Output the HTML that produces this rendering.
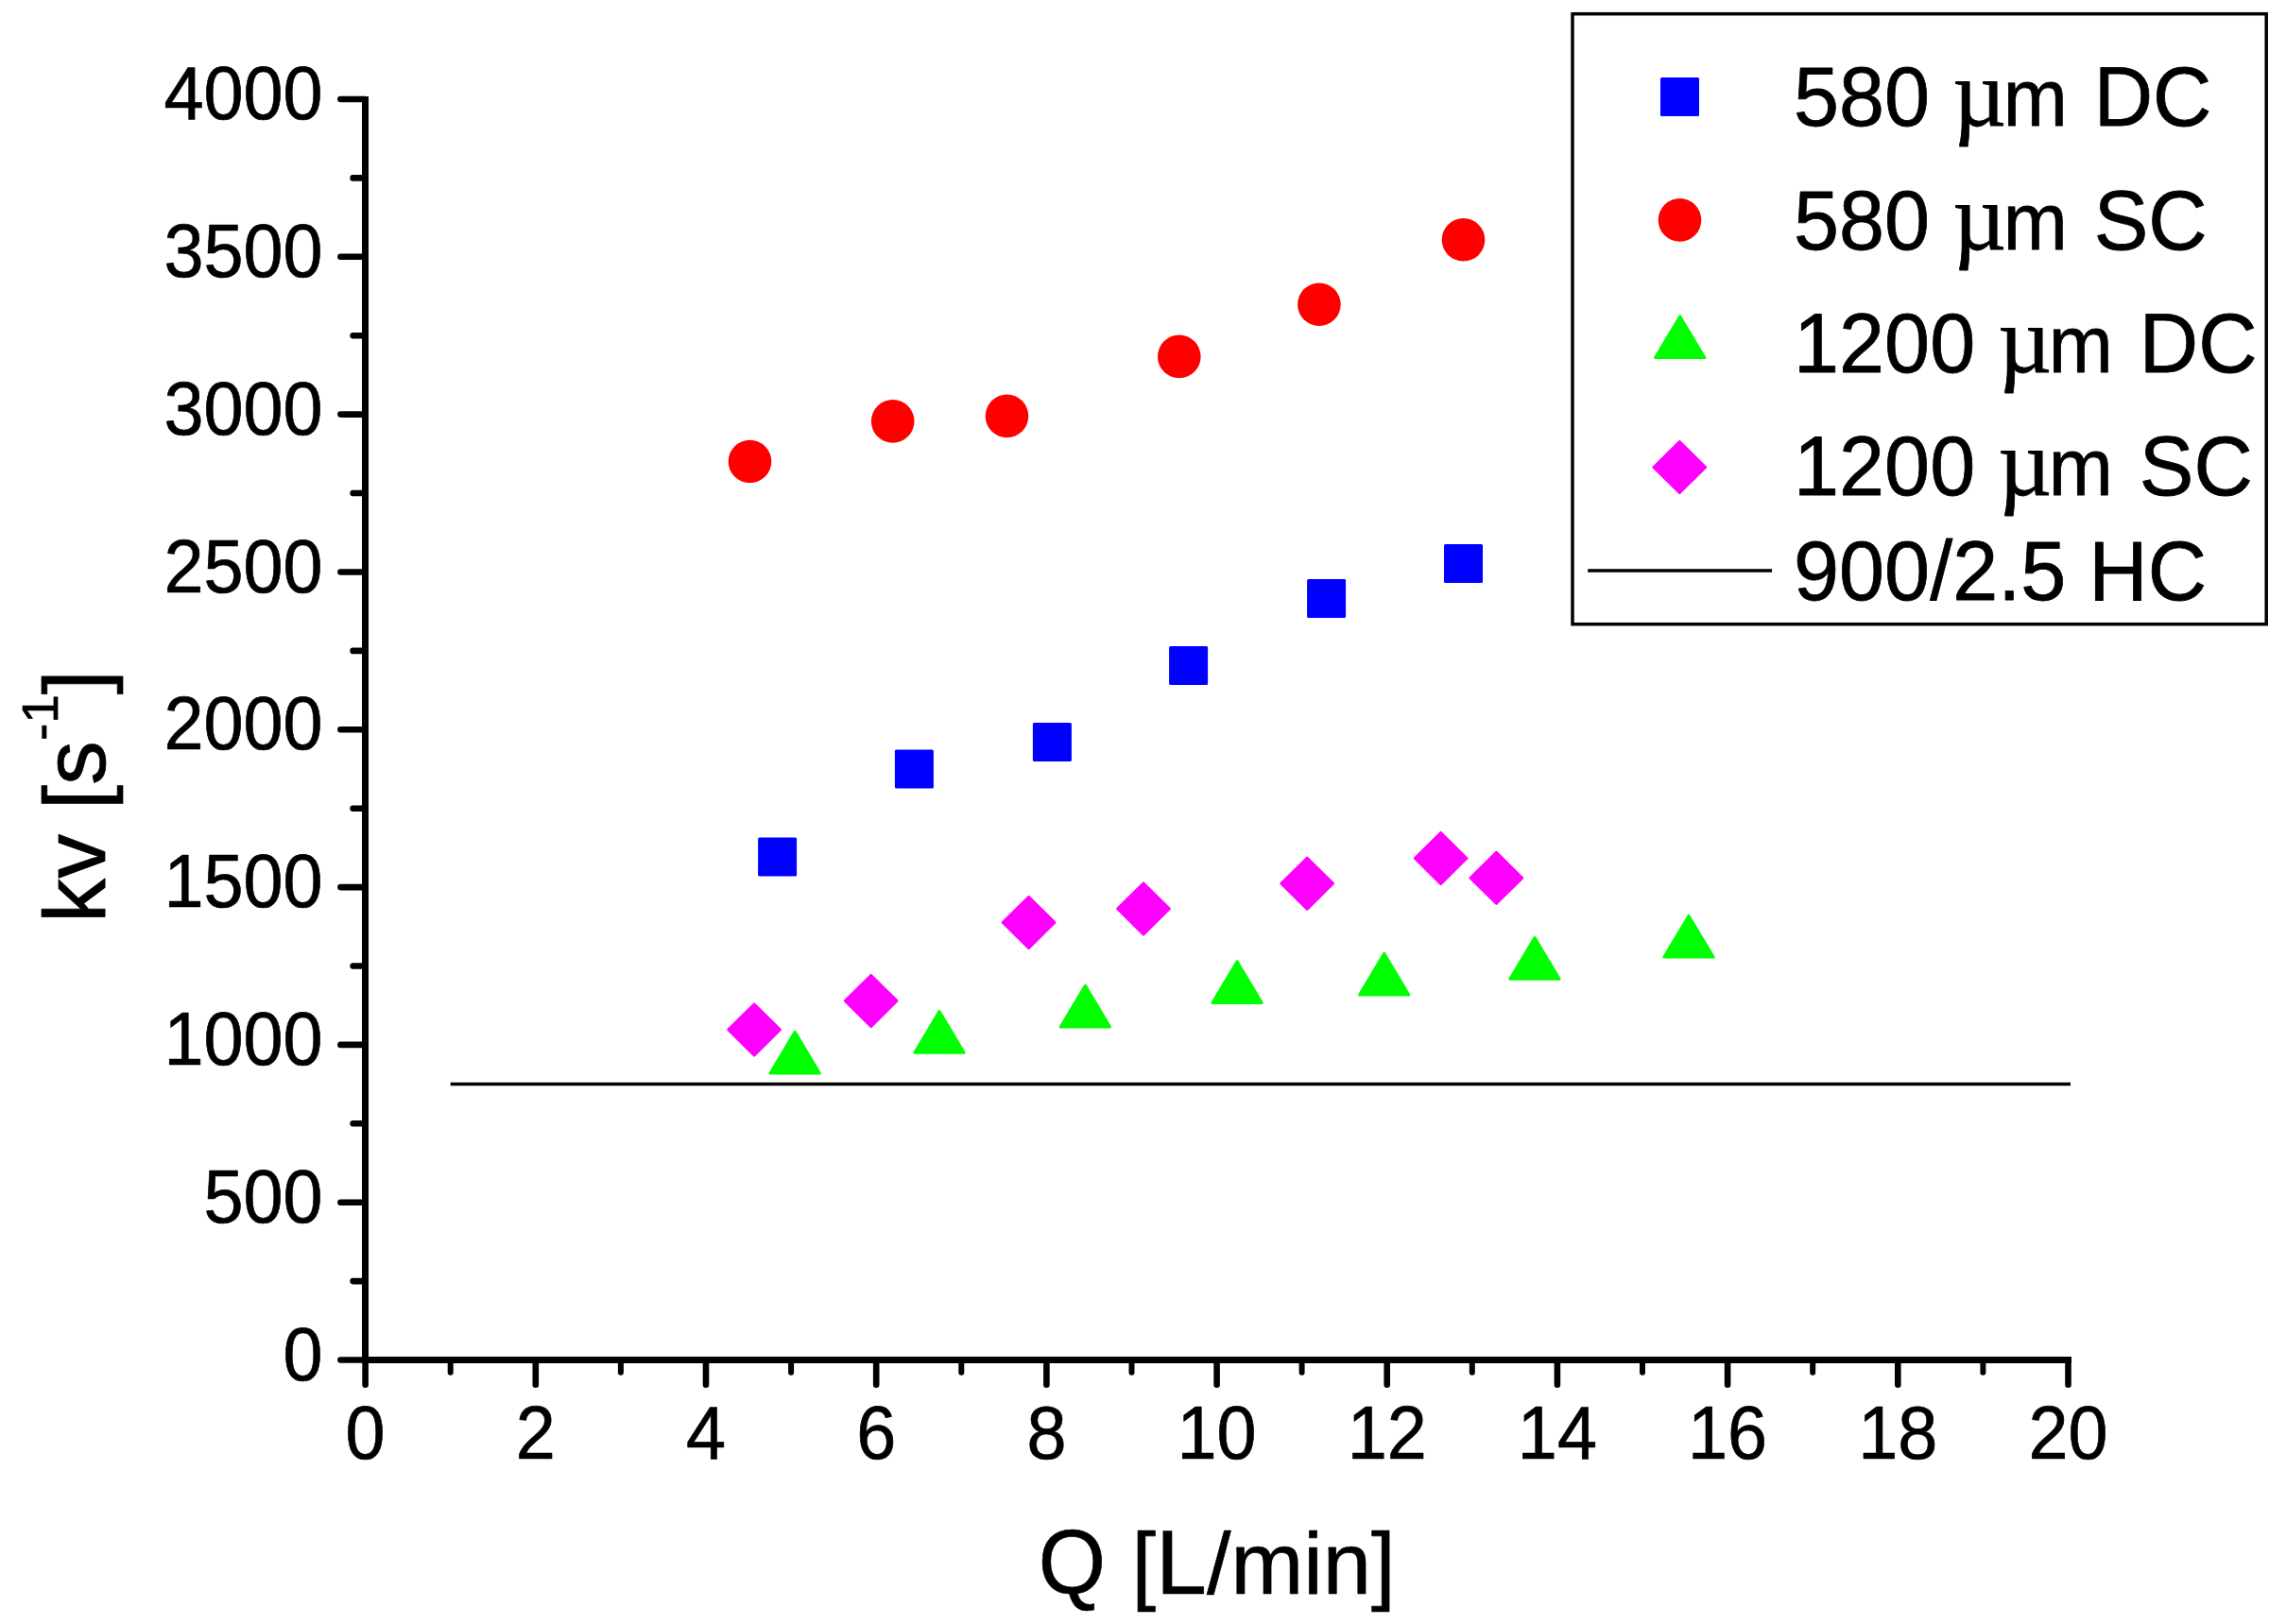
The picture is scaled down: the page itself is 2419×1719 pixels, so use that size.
<!DOCTYPE html>
<html lang="en"><head><meta charset="utf-8"><title>kv vs Q</title>
<style>html,body{margin:0;padding:0;background:#fff}svg{display:block}</style></head>
<body>
<svg width="2419" height="1719" viewBox="0 0 2419 1719">
<rect width="2419" height="1719" fill="#fff"/>
<line x1="476.7" y1="1147.5" x2="2191" y2="1147.5" stroke="#000" stroke-width="3.5"/>
<g stroke="#000" stroke-width="6.6" stroke-linecap="round" fill="none">
<line x1="360.4" y1="1439.5" x2="386" y2="1439.5"/>
<line x1="373.6" y1="1356.1" x2="386" y2="1356.1"/>
<line x1="360.4" y1="1272.7" x2="386" y2="1272.7"/>
<line x1="373.6" y1="1189.3" x2="386" y2="1189.3"/>
<line x1="360.4" y1="1105.9" x2="386" y2="1105.9"/>
<line x1="373.6" y1="1022.5" x2="386" y2="1022.5"/>
<line x1="360.4" y1="939.1" x2="386" y2="939.1"/>
<line x1="373.6" y1="855.7" x2="386" y2="855.7"/>
<line x1="360.4" y1="772.3" x2="386" y2="772.3"/>
<line x1="373.6" y1="688.9" x2="386" y2="688.9"/>
<line x1="360.4" y1="605.5" x2="386" y2="605.5"/>
<line x1="373.6" y1="522.0" x2="386" y2="522.0"/>
<line x1="360.4" y1="438.6" x2="386" y2="438.6"/>
<line x1="373.6" y1="355.2" x2="386" y2="355.2"/>
<line x1="360.4" y1="271.8" x2="386" y2="271.8"/>
<line x1="373.6" y1="188.4" x2="386" y2="188.4"/>
<line x1="360.4" y1="105.0" x2="386" y2="105.0"/>
<line x1="386.6" y1="1440" x2="386.6" y2="1465.7"/>
<line x1="476.7" y1="1440" x2="476.7" y2="1452.8" stroke-width="6"/>
<line x1="566.8" y1="1440" x2="566.8" y2="1465.7"/>
<line x1="656.9" y1="1440" x2="656.9" y2="1452.8" stroke-width="6"/>
<line x1="747.0" y1="1440" x2="747.0" y2="1465.7"/>
<line x1="837.1" y1="1440" x2="837.1" y2="1452.8" stroke-width="6"/>
<line x1="927.2" y1="1440" x2="927.2" y2="1465.7"/>
<line x1="1017.3" y1="1440" x2="1017.3" y2="1452.8" stroke-width="6"/>
<line x1="1107.4" y1="1440" x2="1107.4" y2="1465.7"/>
<line x1="1197.5" y1="1440" x2="1197.5" y2="1452.8" stroke-width="6"/>
<line x1="1287.6" y1="1440" x2="1287.6" y2="1465.7"/>
<line x1="1377.6" y1="1440" x2="1377.6" y2="1452.8" stroke-width="6"/>
<line x1="1467.7" y1="1440" x2="1467.7" y2="1465.7"/>
<line x1="1557.8" y1="1440" x2="1557.8" y2="1452.8" stroke-width="6"/>
<line x1="1647.9" y1="1440" x2="1647.9" y2="1465.7"/>
<line x1="1738.0" y1="1440" x2="1738.0" y2="1452.8" stroke-width="6"/>
<line x1="1828.1" y1="1440" x2="1828.1" y2="1465.7"/>
<line x1="1918.2" y1="1440" x2="1918.2" y2="1452.8" stroke-width="6"/>
<line x1="2008.3" y1="1440" x2="2008.3" y2="1465.7"/>
<line x1="2098.4" y1="1440" x2="2098.4" y2="1452.8" stroke-width="6"/>
<line x1="2188.5" y1="1440" x2="2188.5" y2="1465.7"/>
</g>
<rect x="383" y="102" width="7" height="1340" fill="#000"/>
<rect x="383" y="1436" width="1809" height="7" fill="#000"/>
<g font-family="'Liberation Sans', Arial, sans-serif" fill="#000" stroke="#000" stroke-width="0.7" stroke-linejoin="round">
<text transform="translate(341.6 1460.5) scale(0.9470 1)" font-size="79.83" text-anchor="end" xml:space="preserve">0</text>
<text transform="translate(341.6 1293.7) scale(0.9470 1)" font-size="79.83" text-anchor="end" xml:space="preserve">500</text>
<text transform="translate(341.6 1126.9) scale(0.9470 1)" font-size="79.83" text-anchor="end" xml:space="preserve">1000</text>
<text transform="translate(341.6 960.1) scale(0.9470 1)" font-size="79.83" text-anchor="end" xml:space="preserve">1500</text>
<text transform="translate(341.6 793.3) scale(0.9470 1)" font-size="79.83" text-anchor="end" xml:space="preserve">2000</text>
<text transform="translate(341.6 626.5) scale(0.9470 1)" font-size="79.83" text-anchor="end" xml:space="preserve">2500</text>
<text transform="translate(341.6 459.6) scale(0.9470 1)" font-size="79.83" text-anchor="end" xml:space="preserve">3000</text>
<text transform="translate(341.6 292.8) scale(0.9470 1)" font-size="79.83" text-anchor="end" xml:space="preserve">3500</text>
<text transform="translate(341.6 126.0) scale(0.9470 1)" font-size="79.83" text-anchor="end" xml:space="preserve">4000</text>
<text transform="translate(386.6 1544.0) scale(0.9470 1)" font-size="79.83" text-anchor="middle" xml:space="preserve">0</text>
<text transform="translate(566.8 1544.0) scale(0.9470 1)" font-size="79.83" text-anchor="middle" xml:space="preserve">2</text>
<text transform="translate(747.0 1544.0) scale(0.9470 1)" font-size="79.83" text-anchor="middle" xml:space="preserve">4</text>
<text transform="translate(927.2 1544.0) scale(0.9470 1)" font-size="79.83" text-anchor="middle" xml:space="preserve">6</text>
<text transform="translate(1107.4 1544.0) scale(0.9470 1)" font-size="79.83" text-anchor="middle" xml:space="preserve">8</text>
<text transform="translate(1287.6 1544.0) scale(0.9470 1)" font-size="79.83" text-anchor="middle" xml:space="preserve">10</text>
<text transform="translate(1467.7 1544.0) scale(0.9470 1)" font-size="79.83" text-anchor="middle" xml:space="preserve">12</text>
<text transform="translate(1647.9 1544.0) scale(0.9470 1)" font-size="79.83" text-anchor="middle" xml:space="preserve">14</text>
<text transform="translate(1828.1 1544.0) scale(0.9470 1)" font-size="79.83" text-anchor="middle" xml:space="preserve">16</text>
<text transform="translate(2008.3 1544.0) scale(0.9470 1)" font-size="79.83" text-anchor="middle" xml:space="preserve">18</text>
<text transform="translate(2188.5 1544.0) scale(0.9470 1)" font-size="79.83" text-anchor="middle" xml:space="preserve">20</text>
<text transform="translate(1098.7 1686.5) scale(0.945 1)" font-size="96.9">Q</text>
<text transform="translate(1197.4 1686.5) scale(0.998 1)" font-size="92.3" xml:space="preserve">[<tspan font-size="97.1">L</tspan>/min]</text>
<text transform="translate(110.9 976.7) rotate(-90) scale(1.0150 1)" font-size="92.32" text-anchor="start" xml:space="preserve">kv [s<tspan font-size="54.19" dy="-50.2">-1</tspan><tspan dy="50.2">]</tspan></text>
</g>
<polygon points="841.2,1092.3 867.3,1136.0 815.1,1136.0" fill="#00ff00" stroke="#00ff00" stroke-width="3.0" stroke-linejoin="round"/>
<polygon points="994.0,1070.5 1020.1,1114.2 967.9,1114.2" fill="#00ff00" stroke="#00ff00" stroke-width="3.0" stroke-linejoin="round"/>
<polygon points="1148.4,1043.3 1174.5,1087.0 1122.3,1087.0" fill="#00ff00" stroke="#00ff00" stroke-width="3.0" stroke-linejoin="round"/>
<polygon points="1309.1,1017.7 1335.2,1061.4 1283.0,1061.4" fill="#00ff00" stroke="#00ff00" stroke-width="3.0" stroke-linejoin="round"/>
<polygon points="1464.7,1009.3 1490.8,1053.0 1438.6,1053.0" fill="#00ff00" stroke="#00ff00" stroke-width="3.0" stroke-linejoin="round"/>
<polygon points="1624.0,992.5 1650.1,1036.2 1597.9,1036.2" fill="#00ff00" stroke="#00ff00" stroke-width="3.0" stroke-linejoin="round"/>
<polygon points="1787.0,969.4 1813.1,1013.1 1760.9,1013.1" fill="#00ff00" stroke="#00ff00" stroke-width="3.0" stroke-linejoin="round"/>
<polygon points="798.1,1062.5 825.8,1089.9 798.1,1117.3 770.4,1089.9" fill="#ff00ff" stroke="#ff00ff" stroke-width="2.4" stroke-linejoin="round"/>
<polygon points="921.7,1032.0 949.4,1059.4 921.7,1086.8 894.0,1059.4" fill="#ff00ff" stroke="#ff00ff" stroke-width="2.4" stroke-linejoin="round"/>
<polygon points="1088.6,949.0 1116.3,976.4 1088.6,1003.8 1060.9,976.4" fill="#ff00ff" stroke="#ff00ff" stroke-width="2.4" stroke-linejoin="round"/>
<polygon points="1210.0,934.5 1237.7,961.9 1210.0,989.3 1182.3,961.9" fill="#ff00ff" stroke="#ff00ff" stroke-width="2.4" stroke-linejoin="round"/>
<polygon points="1383.2,907.8 1410.9,935.2 1383.2,962.6 1355.5,935.2" fill="#ff00ff" stroke="#ff00ff" stroke-width="2.4" stroke-linejoin="round"/>
<polygon points="1524.6,881.1 1552.3,908.5 1524.6,935.9 1496.9,908.5" fill="#ff00ff" stroke="#ff00ff" stroke-width="2.4" stroke-linejoin="round"/>
<polygon points="1583.4,901.9 1611.1,929.3 1583.4,956.7 1555.7,929.3" fill="#ff00ff" stroke="#ff00ff" stroke-width="2.4" stroke-linejoin="round"/>
<rect x="802.1" y="886.4" width="41" height="41" rx="1.5" fill="#0000ff"/>
<rect x="946.9" y="793.6" width="41" height="41" rx="1.5" fill="#0000ff"/>
<rect x="1092.9" y="765.0" width="41" height="41" rx="1.5" fill="#0000ff"/>
<rect x="1237.1" y="684.0" width="41" height="41" rx="1.5" fill="#0000ff"/>
<rect x="1383.1" y="612.9" width="41" height="41" rx="1.5" fill="#0000ff"/>
<rect x="1528.0" y="576.0" width="41" height="41" rx="1.5" fill="#0000ff"/>
<circle cx="793.5" cy="488.5" r="22.8" fill="#ff0000"/>
<circle cx="944.7" cy="445.9" r="22.8" fill="#ff0000"/>
<circle cx="1065.5" cy="440.4" r="22.8" fill="#ff0000"/>
<circle cx="1247.8" cy="377.4" r="22.8" fill="#ff0000"/>
<circle cx="1395.9" cy="322.2" r="22.8" fill="#ff0000"/>
<circle cx="1548.5" cy="253.8" r="22.8" fill="#ff0000"/>
<rect x="1664" y="14.7" width="734.2" height="646" fill="#fff" stroke="#000" stroke-width="3.5"/>
<rect x="1757.0" y="82.1" width="41" height="41" rx="1.5" fill="#0000ff"/>
<circle cx="1777.5" cy="232.9" r="22.8" fill="#ff0000"/>
<polygon points="1777.7,334.9 1803.8,378.6 1751.6,378.6" fill="#00ff00" stroke="#00ff00" stroke-width="3.0" stroke-linejoin="round"/>
<polygon points="1777.3,467.2 1805.0,494.6 1777.3,522.0 1749.6,494.6" fill="#ff00ff" stroke="#ff00ff" stroke-width="2.4" stroke-linejoin="round"/>
<line x1="1680.2" y1="604.1" x2="1875.1" y2="604.1" stroke="#000" stroke-width="3.5"/>
<g font-family="'Liberation Sans', Arial, sans-serif" fill="#000" stroke="#000" stroke-width="0.8" stroke-linejoin="round">
<text transform="translate(1898.0 133.3) scale(0.9611 1)" font-size="89.90" text-anchor="start" xml:space="preserve">580 <tspan font-family="'Liberation Serif', serif" font-size="102.40">µ</tspan><tspan dx="-3.3" font-size="84.95">m</tspan><tspan dx="4.2"> </tspan>DC</text>
<text transform="translate(1898.0 263.5) scale(0.9611 1)" font-size="89.90" text-anchor="start" xml:space="preserve">580 <tspan font-family="'Liberation Serif', serif" font-size="102.40">µ</tspan><tspan dx="-3.3" font-size="84.95">m</tspan><tspan dx="4.2"> </tspan>SC</text>
<text transform="translate(1898.0 393.7) scale(0.9611 1)" font-size="89.90" text-anchor="start" xml:space="preserve">1200 <tspan font-family="'Liberation Serif', serif" font-size="102.40">µ</tspan><tspan dx="-3.3" font-size="84.95">m</tspan><tspan dx="4.2"> </tspan>DC</text>
<text transform="translate(1898.0 523.9) scale(0.9611 1)" font-size="89.90" text-anchor="start" xml:space="preserve">1200 <tspan font-family="'Liberation Serif', serif" font-size="102.40">µ</tspan><tspan dx="-3.3" font-size="84.95">m</tspan><tspan dx="4.2"> </tspan>SC</text>
<text transform="translate(1898.0 634.6) scale(0.9611 1)" font-size="89.90" text-anchor="start" xml:space="preserve">900/2.5 HC</text>
</g>
</svg>
</body></html>
